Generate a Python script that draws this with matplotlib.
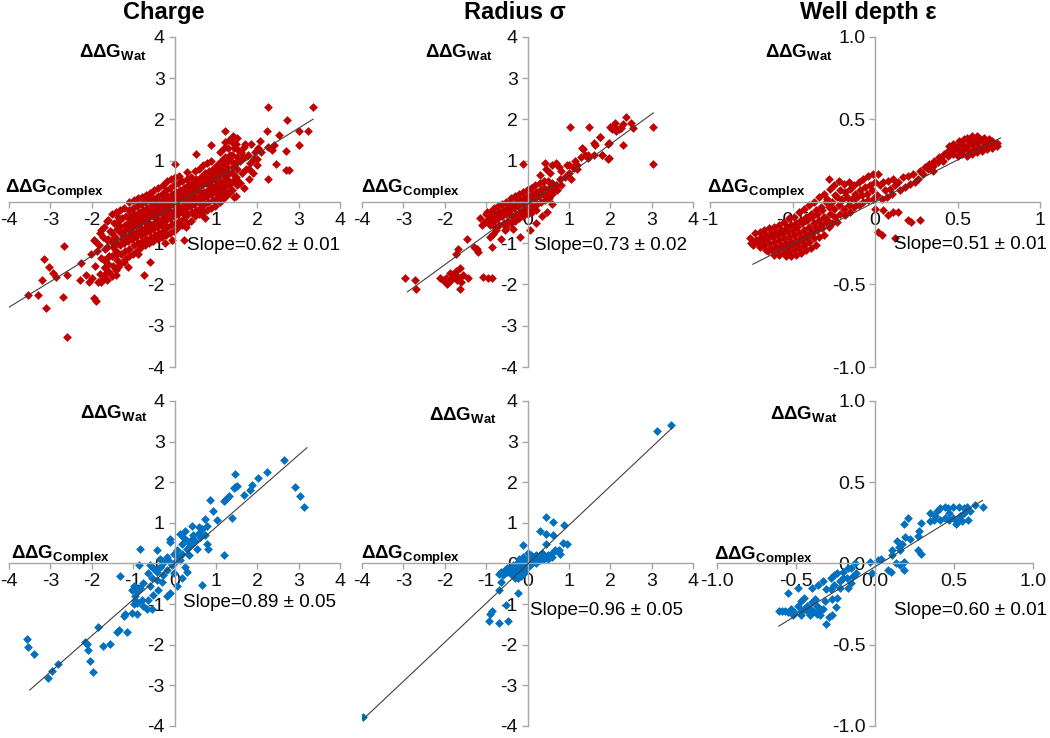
import numpy as np
import matplotlib.pyplot as plt

plt.rcParams['font.family'] = ['Liberation Sans', 'DejaVu Sans']
plt.rcParams['mathtext.fontset'] = 'custom'
plt.rcParams['mathtext.rm'] = 'Liberation Sans'
plt.rcParams['mathtext.bf'] = 'Liberation Sans:bold'

# column titles
titles = ['Charge', 'Radius σ', 'Well depth ε']

# slope annotations (top row, bottom row)
slopes_top = ['Slope=0.62 ± 0.01', 'Slope=0.73 ± 0.02', 'Slope=0.51 ± 0.01']
slopes_bottom = ['Slope=0.89 ± 0.05', 'Slope=0.96 ± 0.05', 'Slope=0.60 ± 0.01']

# trend lines: slope, intercept, x start, x end
fit_charge_top = [0.62, -0.07, -4.0, 3.35]
fit_radius_top = [0.73, -0.06, -2.9, 3.04]
fit_well_top = [0.51, 0.0, -0.74, 0.76]
fit_charge_bottom = [0.89, 0.0, -3.5, 3.2]
fit_radius_bottom = [0.96, -0.02, -3.95, 3.5]
fit_well_bottom = [0.60, -0.02, -0.61, 0.68]

# ---- Charge, top row (x = ddG complex, y = ddG water) ----
charge_top = [
    (3.35, 2.31), (2.26, 2.31), (2.72, 1.99), (3.02, 1.73), (3.23, 1.73), (3.0, 1.39),
    (2.70, 1.23), (2.70, 0.78), (2.76, 0.78), (2.26, 0.56), (2.46, 0.93), (2.26, 1.33),
    (2.06, 1.49), (2.24, 1.73), (2.52, 1.63), (1.94, 1.21), (1.81, 0.81), (1.60, 1.05),
    (1.67, 1.33), (1.23, 1.73), (0.89, 1.37), (0.52, 1.17), (0.02, 0.93), (1.45, 0.12),
    (1.49, 0.56), (1.17, 0.36), (2.1, 1.2), (2.35, 1.25), (2.4, 1.38), (1.85, 1.4), (2.0, 1.05),
    (-3.55, -2.26), (-3.31, -2.26), (-3.10, -2.56), (-3.21, -1.90), (-3.15, -1.37), (-3.04, -1.57),
    (-2.94, -1.73), (-2.86, -1.81), (-2.70, -2.31), (-2.68, -1.07), (-2.60, -1.77), (-2.60, -3.27),
    (-2.28, -1.90), (-2.26, -1.48), (-2.03, -1.25), (-2.14, -1.77), (-2.07, -1.94), (-1.94, -2.32),
    (-1.90, -2.40), (-2.0, -1.85), (-1.85, -1.94), (-1.77, -1.94), (-1.69, -1.57), (-1.65, -1.73),
    (-1.60, -1.33), (-1.63, -0.91), (-1.37, -1.57), (-1.41, -1.77), (-1.41, -1.29), (-1.19, -1.37),
    (-1.13, -1.57), (-0.89, -1.25), (-0.74, -1.77), (-0.60, -1.45), (-0.24, -1.0), (0.23, -0.93),
    (-0.06, -0.93), (-0.56, -0.93), (-1.94, -0.93), (-1.77, -0.69), (-1.61, -0.44), (-1.37, -0.36),
    (0.65, -0.28), (0.73, -0.40), (0.28, -0.60), (-1.37, -0.54),
    (-1.91, -1.55), (-1.88, -1.2), (-1.93, -0.95),
    (-1.81, -1.75), (-1.78, -1.35), (-1.83, -1.05), (-1.79, -0.75),
    (-1.72, -1.85), (-1.69, -1.6), (-1.71, -1.4), (-1.68, -1.15), (-1.73, -0.85), (-1.7, -0.6),
    (-1.62, -1.9), (-1.58, -1.7), (-1.61, -1.5), (-1.59, -1.3), (-1.63, -1.1), (-1.6, -0.9), (-1.57, -0.7), (-1.62, -0.45),
    (-1.52, -1.8), (-1.49, -1.55), (-1.51, -1.3), (-1.48, -1.1), (-1.53, -0.95), (-1.5, -0.75), (-1.47, -0.5), (-1.52, -0.3),
    (-1.42, -1.65), (-1.39, -1.4), (-1.41, -1.2), (-1.38, -1.0), (-1.43, -0.85), (-1.4, -0.65), (-1.37, -0.45), (-1.42, -0.25),
    (-1.31, -1.5), (-1.29, -1.25), (-1.32, -1.05), (-1.28, -0.9), (-1.3, -0.75), (-1.33, -0.6), (-1.27, -0.4), (-1.31, -0.2),
    (-1.22, -1.45), (-1.19, -1.2), (-1.21, -1.0), (-1.18, -0.85), (-1.23, -0.7), (-1.2, -0.55), (-1.17, -0.35), (-1.22, -0.15),
    (-1.11, -1.3), (-1.09, -1.15), (-1.12, -0.95), (-1.08, -0.8), (-1.1, -0.65), (-1.13, -0.5), (-1.07, -0.35), (-1.11, -0.2), (-1.09, 0.0),
    (-1.01, -1.25), (-0.98, -1.05), (-1.02, -0.9), (-0.99, -0.75), (-1.03, -0.6), (-1.0, -0.45), (-0.97, -0.3), (-1.01, -0.15), (-0.99, 0.05),
    (-0.91, -1.2), (-0.88, -1.0), (-0.92, -0.85), (-0.89, -0.7), (-0.93, -0.55), (-0.9, -0.4), (-0.87, -0.25), (-0.91, -0.1), (-0.89, 0.1),
    (-0.81, -1.1), (-0.78, -0.95), (-0.82, -0.8), (-0.79, -0.65), (-0.83, -0.5), (-0.8, -0.35), (-0.77, -0.2), (-0.81, -0.05), (-0.79, 0.12),
    (-0.71, -1.05), (-0.68, -0.9), (-0.72, -0.75), (-0.69, -0.6), (-0.73, -0.45), (-0.7, -0.3), (-0.67, -0.15), (-0.71, 0.0), (-0.69, 0.18),
    (-0.61, -1.0), (-0.58, -0.85), (-0.62, -0.7), (-0.59, -0.55), (-0.63, -0.4), (-0.6, -0.25), (-0.57, -0.1), (-0.61, 0.05), (-0.59, 0.22),
    (-0.51, -0.95), (-0.48, -0.8), (-0.52, -0.65), (-0.49, -0.5), (-0.53, -0.35), (-0.5, -0.2), (-0.47, -0.05), (-0.51, 0.1), (-0.49, 0.28),
    (-0.41, -0.9), (-0.38, -0.75), (-0.42, -0.6), (-0.39, -0.45), (-0.43, -0.3), (-0.4, -0.15), (-0.37, 0.0), (-0.41, 0.15), (-0.39, 0.35),
    (-0.31, -0.85), (-0.28, -0.7), (-0.32, -0.55), (-0.29, -0.4), (-0.33, -0.25), (-0.3, -0.1), (-0.27, 0.05), (-0.31, 0.2), (-0.29, 0.4),
    (-0.21, -0.8), (-0.18, -0.6), (-0.22, -0.45), (-0.19, -0.3), (-0.23, -0.15), (-0.2, 0.0), (-0.17, 0.15), (-0.21, 0.3), (-0.19, 0.5),
    (-0.11, -0.75), (-0.08, -0.55), (-0.12, -0.4), (-0.09, -0.25), (-0.13, -0.1), (-0.1, 0.05), (-0.07, 0.2), (-0.11, 0.35), (-0.09, 0.55),
    (-0.01, -0.7), (0.02, -0.5), (-0.02, -0.35), (0.01, -0.2), (-0.03, -0.05), (0.0, 0.1), (0.03, 0.25), (-0.01, 0.4), (0.01, 0.6),
    (0.09, -0.6), (0.12, -0.45), (0.08, -0.3), (0.11, -0.15), (0.07, 0.0), (0.1, 0.15), (0.13, 0.3), (0.09, 0.45), (0.11, 0.62),
    (0.19, -0.55), (0.22, -0.4), (0.18, -0.25), (0.21, -0.1), (0.17, 0.05), (0.2, 0.2), (0.23, 0.35), (0.19, 0.5),
    (0.29, -0.5), (0.32, -0.3), (0.28, -0.15), (0.31, 0.0), (0.27, 0.12), (0.3, 0.25), (0.33, 0.4), (0.29, 0.55), (0.31, 0.72),
    (0.39, -0.45), (0.42, -0.25), (0.38, -0.1), (0.41, 0.05), (0.37, 0.2), (0.4, 0.32), (0.43, 0.45), (0.39, 0.6),
    (0.49, -0.35), (0.52, -0.2), (0.48, -0.05), (0.51, 0.1), (0.47, 0.25), (0.5, 0.4), (0.53, 0.55), (0.49, 0.75),
    (0.59, -0.3), (0.62, -0.15), (0.58, 0.0), (0.61, 0.15), (0.57, 0.3), (0.6, 0.45), (0.63, 0.6), (0.59, 0.8),
    (0.69, -0.25), (0.72, -0.05), (0.68, 0.1), (0.71, 0.25), (0.67, 0.4), (0.7, 0.55), (0.73, 0.7), (0.69, 0.9),
    (0.79, -0.2), (0.82, 0.0), (0.78, 0.15), (0.81, 0.3), (0.77, 0.45), (0.8, 0.6), (0.83, 0.75), (0.79, 0.95),
    (0.89, -0.15), (0.92, 0.05), (0.88, 0.2), (0.91, 0.35), (0.87, 0.5), (0.9, 0.65), (0.93, 0.8), (0.89, 1.0),
    (0.99, -0.1), (1.02, 0.1), (0.98, 0.25), (1.01, 0.4), (0.97, 0.55), (1.0, 0.7), (1.03, 0.9),
    (1.09, 0.0), (1.12, 0.2), (1.08, 0.35), (1.11, 0.5), (1.07, 0.65), (1.1, 0.8), (1.13, 1.0), (1.09, 1.2),
    (1.19, 0.1), (1.22, 0.3), (1.18, 0.45), (1.21, 0.6), (1.17, 0.75), (1.2, 0.9), (1.23, 1.1), (1.19, 1.3), (1.21, 1.45),
    (1.29, 0.2), (1.32, 0.4), (1.28, 0.55), (1.31, 0.7), (1.27, 0.85), (1.3, 1.0), (1.33, 1.15), (1.29, 1.3), (1.31, 1.5),
    (1.39, 0.3), (1.42, 0.5), (1.38, 0.7), (1.41, 0.85), (1.37, 1.0), (1.4, 1.15), (1.43, 1.3), (1.39, 1.45), (1.41, 1.6),
    (1.49, 0.15), (1.52, 0.4), (1.48, 0.6), (1.51, 0.8), (1.47, 0.95), (1.5, 1.1), (1.53, 1.25), (1.49, 1.4), (1.51, 1.55),
    (1.59, 0.45), (1.62, 0.7), (1.58, 1.0), (1.61, 1.2),
    (1.69, 0.35), (1.72, 0.8), (1.68, 1.1), (1.71, 1.4),
    (1.79, 0.55), (1.82, 0.95), (1.78, 1.15),
    (1.89, 0.7), (1.92, 1.05), (1.99, 0.9), (2.02, 1.3),
    (-0.86, -0.62), (-0.64, -0.48), (-0.44, -0.38), (-0.25, -0.33), (-0.05, -0.28), (0.15, -0.2),
    (0.35, -0.05), (0.55, 0.05), (-0.75, -0.38), (-0.55, -0.3), (-0.35, -0.2), (-0.15, -0.12),
    (0.05, -0.08), (0.25, 0.08), (0.45, 0.15), (0.65, 0.2), (0.85, 0.4), (-1.25, -0.8), (-1.05, -0.7),
]

# ---- Radius, top row ----
radius_top = [
    (3.04, 1.81), (3.04, 0.91), (2.38, 2.07), (2.51, 1.91), (2.55, 1.79), (2.0, 1.81),
    (2.1, 1.85), (2.2, 1.78), (2.15, 1.72), (2.25, 1.8), (2.05, 1.76), (2.3, 1.9), (2.12, 1.92),
    (1.95, 1.40), (2.3, 1.37), (1.75, 1.57), (1.63, 1.37), (1.35, 1.29), (1.47, 1.13), (1.79, 1.13),
    (1.95, 1.05), (1.02, 1.81), (1.49, 1.81), (-0.1, 0.91), (0.42, 0.94), (0.76, 0.86), (1.0, 0.9),
    (1.12, 0.82), (1.2, 0.9), (1.4, 1.14), (1.32, 1.3), (1.6, 1.42), (1.76, 1.58), (1.96, 1.42),
    (1.8, 1.14), (1.96, 1.06), (1.45, 1.07), (1.6, 1.13), (0.45, 0.8), (0.6, 0.9), (0.7, 0.95),
    (0.8, 0.75), (0.95, 0.9), (1.0, 0.7), (1.1, 0.85), (1.2, 0.8), (1.15, 1.0), (1.3, 1.1),
    (0.9, 0.6), (1.05, 0.55), (0.3, 0.65), (0.55, 0.7),
    (-2.97, -1.85), (-2.72, -1.9), (-2.69, -2.12), (-2.12, -1.85), (-2.05, -1.9), (-1.98, -1.85),
    (-1.92, -1.93), (-1.85, -1.88), (-1.8, -1.8), (-1.75, -1.75), (-1.7, -1.9), (-1.65, -1.85),
    (-1.6, -1.95), (-1.88, -1.73), (-1.95, -1.98), (-1.64, -2.12), (-1.64, -1.6), (-1.55, -1.78),
    (-1.45, -1.85), (-1.72, -1.68), (-1.72, -1.25), (-1.68, -1.13), (-1.47, -0.89), (-1.23, -1.13),
    (-1.19, -1.21), (-1.3, -1.09), (-0.99, -0.24), (-1.07, -1.81), (-0.95, -1.85), (-0.87, -1.85),
    (-0.83, -0.77), (-0.91, -0.85), (-0.75, -0.69), (-0.85, -1.09), (-0.55, -0.69), (-0.51, -0.6),
    (-1.03, -0.48), (-0.19, -0.85), (-0.35, -0.65), (0.06, -0.69), (0.46, -0.24),
    (-1.15, -0.4), (-1.1, -0.55), (-0.65, -0.9), (0.2, -0.5), (0.35, -0.35), (0.6, -0.05),
    (-1.01, -0.3), (-0.98, -0.45),
    (-0.91, -0.25), (-0.88, -0.4), (-0.9, -0.55),
    (-0.81, -0.15), (-0.79, -0.3), (-0.82, -0.45), (-0.78, -0.6),
    (-0.71, -0.1), (-0.69, -0.25), (-0.72, -0.4), (-0.68, -0.55),
    (-0.61, -0.05), (-0.59, -0.2), (-0.62, -0.35), (-0.58, -0.5),
    (-0.51, 0.0), (-0.49, -0.15), (-0.52, -0.3), (-0.48, -0.45),
    (-0.41, 0.1), (-0.39, -0.05), (-0.42, -0.2), (-0.38, -0.35), (-0.4, -0.5),
    (-0.31, 0.15), (-0.29, 0.0), (-0.32, -0.15), (-0.28, -0.3), (-0.3, -0.45),
    (-0.21, 0.2), (-0.19, 0.05), (-0.22, -0.1), (-0.18, -0.25), (-0.2, -0.4),
    (-0.11, 0.25), (-0.09, 0.1), (-0.12, -0.05), (-0.08, -0.2), (-0.1, -0.35),
    (-0.01, 0.3), (0.01, 0.15), (-0.02, 0.0), (0.02, -0.15), (0.0, -0.3),
    (0.09, 0.35), (0.11, 0.2), (0.08, 0.05), (0.12, -0.1), (0.1, -0.25),
    (0.19, 0.4), (0.21, 0.25), (0.18, 0.1), (0.22, -0.05), (0.2, -0.2),
    (0.29, 0.45), (0.31, 0.3), (0.28, 0.15), (0.32, 0.0),
    (0.39, 0.5), (0.41, 0.35), (0.38, 0.2), (0.42, 0.05),
    (0.49, 0.5), (0.51, 0.35), (0.48, 0.2), (0.52, 0.1),
    (0.59, 0.45), (0.61, 0.3), (0.58, 0.2),
    (0.69, 0.4), (0.71, 0.3), (0.79, 0.55), (0.81, 0.4),
]

# ---- Well depth, top row ----
well_top = [
    (-0.76, -0.22), (-0.75, -0.25),
    (-0.73, -0.19), (-0.72, -0.23), (-0.74, -0.26),
    (-0.70, -0.18), (-0.69, -0.21), (-0.71, -0.24), (-0.70, -0.27),
    (-0.67, -0.17), (-0.66, -0.2), (-0.68, -0.23), (-0.67, -0.26), (-0.66, -0.29),
    (-0.64, -0.16), (-0.63, -0.19), (-0.65, -0.22), (-0.64, -0.25), (-0.63, -0.28), (-0.65, -0.30),
    (-0.61, -0.15), (-0.60, -0.18), (-0.62, -0.21), (-0.61, -0.24), (-0.60, -0.27), (-0.62, -0.30), (-0.61, -0.32),
    (-0.58, -0.14), (-0.57, -0.17), (-0.59, -0.2), (-0.58, -0.23), (-0.57, -0.26), (-0.59, -0.29), (-0.58, -0.32),
    (-0.55, -0.12), (-0.54, -0.16), (-0.56, -0.19), (-0.55, -0.22), (-0.54, -0.25), (-0.56, -0.28), (-0.55, -0.31), (-0.54, -0.33),
    (-0.52, -0.1), (-0.51, -0.14), (-0.53, -0.18), (-0.52, -0.21), (-0.51, -0.24), (-0.53, -0.27), (-0.52, -0.3), (-0.51, -0.33),
    (-0.49, -0.09), (-0.48, -0.13), (-0.50, -0.17), (-0.49, -0.2), (-0.48, -0.23), (-0.50, -0.26), (-0.49, -0.29), (-0.48, -0.32),
    (-0.46, -0.06), (-0.45, -0.11), (-0.47, -0.15), (-0.46, -0.19), (-0.45, -0.22), (-0.47, -0.25), (-0.46, -0.28), (-0.45, -0.31),
    (-0.43, -0.04), (-0.42, -0.09), (-0.44, -0.13), (-0.43, -0.17), (-0.42, -0.2), (-0.44, -0.23), (-0.43, -0.26), (-0.42, -0.29),
    (-0.40, -0.02), (-0.39, -0.07), (-0.41, -0.11), (-0.40, -0.15), (-0.39, -0.18), (-0.41, -0.21), (-0.40, -0.24), (-0.39, -0.28),
    (-0.37, 0.0), (-0.36, -0.05), (-0.38, -0.09), (-0.37, -0.13), (-0.36, -0.16), (-0.38, -0.19), (-0.37, -0.22), (-0.36, -0.26),
    (-0.34, 0.03), (-0.33, -0.03), (-0.35, -0.07), (-0.34, -0.11), (-0.33, -0.14), (-0.35, -0.17), (-0.34, -0.21),
    (-0.31, 0.05), (-0.30, 0.0), (-0.32, -0.05), (-0.31, -0.09), (-0.30, -0.12), (-0.32, -0.16), (-0.31, -0.2),
    (-0.28, 0.14), (-0.27, 0.08), (-0.29, 0.02), (-0.28, -0.03), (-0.27, -0.07), (-0.29, -0.11), (-0.28, -0.15),
    (-0.25, 0.1), (-0.24, 0.04), (-0.26, 0.0), (-0.25, -0.04), (-0.24, -0.09), (-0.26, -0.13),
    (-0.22, 0.13), (-0.21, 0.07), (-0.23, 0.03), (-0.22, -0.02), (-0.21, -0.07), (-0.23, -0.12),
    (-0.19, 0.11), (-0.18, 0.06), (-0.20, 0.01), (-0.19, -0.04), (-0.18, -0.08),
    (-0.16, 0.12), (-0.15, 0.08), (-0.17, 0.03), (-0.16, -0.02), (-0.15, -0.06),
    (-0.13, 0.1), (-0.12, 0.05), (-0.14, 0.02), (-0.13, -0.03),
    (-0.10, 0.12), (-0.09, 0.07), (-0.11, 0.03), (-0.10, -0.02),
    (-0.07, 0.14), (-0.06, 0.09), (-0.08, 0.04), (-0.07, 0.0),
    (-0.04, 0.16), (-0.03, 0.1), (-0.05, 0.05), (-0.04, 0.01),
    (-0.01, 0.17), (0.0, 0.12), (-0.02, 0.07), (-0.01, 0.02), (0.0, -0.04),
    (0.02, 0.17), (0.03, 0.1), (0.01, 0.04), (0.02, -0.18),
    (0.05, 0.12), (0.06, 0.07), (0.04, 0.02), (0.05, -0.05), (0.04, -0.2),
    (0.08, 0.13), (0.09, 0.08), (0.07, 0.03), (0.08, -0.08),
    (0.11, 0.14), (0.12, 0.1), (0.10, 0.05), (0.11, -0.06),
    (0.14, 0.12), (0.15, 0.07), (0.14, -0.06), (0.12, -0.22),
    (0.17, 0.15), (0.18, 0.09), (0.20, 0.16), (0.21, 0.11), (0.20, -0.11),
    (0.23, 0.17), (0.24, 0.12), (0.22, -0.12), (0.26, 0.14), (0.27, 0.19), (0.27, -0.11),
    (0.29, 0.17), (0.30, 0.21), (0.32, 0.2), (0.33, 0.23), (0.35, 0.22), (0.36, 0.25), (0.35, 0.19),
    (0.38, 0.24), (0.39, 0.27), (0.41, 0.25), (0.42, 0.29), (0.44, 0.28), (0.45, 0.34), (0.44, 0.31),
    (0.47, 0.29), (0.48, 0.32), (0.47, 0.35),
    (0.50, 0.28), (0.51, 0.31), (0.50, 0.34), (0.51, 0.37),
    (0.53, 0.29), (0.54, 0.32), (0.53, 0.35), (0.54, 0.38),
    (0.56, 0.28), (0.57, 0.31), (0.56, 0.34), (0.57, 0.37), (0.56, 0.39),
    (0.59, 0.29), (0.60, 0.32), (0.59, 0.35), (0.60, 0.38), (0.59, 0.4),
    (0.62, 0.3), (0.63, 0.33), (0.62, 0.36), (0.63, 0.39), (0.62, 0.4),
    (0.65, 0.31), (0.66, 0.34), (0.65, 0.37), (0.66, 0.39),
    (0.68, 0.32), (0.69, 0.35), (0.68, 0.37), (0.69, 0.38),
    (0.71, 0.33), (0.72, 0.35), (0.71, 0.37), (0.74, 0.34), (0.74, 0.36),
]

# ---- Charge, bottom row ----
charge_bottom = [
    (2.64, 2.54), (2.23, 2.24), (2.03, 2.10), (1.87, 1.94), (1.83, 1.81), (1.47, 2.19),
    (1.47, 1.87), (1.51, 1.9), (1.43, 1.85), (1.69, 1.69), (1.31, 1.65), (1.27, 1.61),
    (1.23, 1.57), (1.19, 1.53), (0.85, 1.55), (0.94, 1.29), (1.02, 1.06), (1.39, 1.13),
    (1.19, 0.2), (2.92, 1.87), (3.04, 1.65), (3.14, 1.39), (0.74, 1.09), (0.78, 0.93),
    (0.58, 0.89), (0.66, 0.85), (0.42, 0.93), (0.26, 0.81), (0.14, 0.73), (0.3, 0.56),
    (0.42, 0.6), (0.74, 0.69), (0.62, 0.65), (0.78, 0.48), (0.82, 0.36), (0.54, 0.36),
    (0.18, 0.48), (-0.1, 0.6), (-0.1, 0.52), (0.06, 0.32), (0.18, 0.24), (-0.02, 0.24),
    (-0.19, 0.16), (-0.35, 0.12), (-0.43, 0.32), (-0.83, 0.36), (-0.15, 0.08), (0.02, 0.04),
    (0.14, 0.08), (0.26, -0.08), (0.3, -0.2), (0.18, -0.36), (-0.02, -0.24), (-0.19, -0.16),
    (-0.27, -0.28), (-0.43, -0.4), (-0.55, -0.36), (-0.59, -0.56), (-0.39, -0.65), (-0.51, -0.77),
    (-0.63, -0.89), (-0.79, -0.89), (-0.91, -0.97), (-0.99, -1.01), (-0.95, -0.81), (-0.87, -0.04),
    (-1.31, -0.32), (-0.67, -1.13), (-0.55, -1.13), (-1.03, -1.21), (-0.91, -1.25), (-1.19, -1.25),
    (-1.23, -1.29), (-0.19, -0.81), (-0.1, -0.73), (0.06, -0.56), (0.66, -0.52), (-1.15, -1.69),
    (-1.35, -1.65), (-1.4, -1.69), (-1.56, -1.98), (-1.72, -2.02), (-1.84, -1.57), (-2.16, -1.94),
    (-2.12, -1.98), (-2.08, -2.14), (-2.04, -2.4), (-1.96, -2.66), (-2.81, -2.48), (-2.97, -2.65),
    (-3.05, -2.82), (-3.57, -1.85), (-3.53, -2.06), (-3.4, -2.22),
    (-0.59, -0.04), (-0.51, -0.12), (-0.43, -0.2), (-0.35, -0.08), (-0.27, 0.0), (-0.63, -0.24),
    (-0.75, -0.48), (-0.83, -0.6), (-0.99, -0.56), (-1.03, -0.65), (-0.91, -0.69), (-0.95, -0.89),
    (-0.75, -1.05), (0.3, 0.36), (0.4, 0.45), (0.1, 0.15), (-0.05, -0.05), (0.35, 0.2),
    (0.5, 0.55), (0.22, 0.62), (-0.3, -0.45), (0.6, 0.75), (0.45, 0.7),
]

# ---- Radius, bottom row ----
radius_bottom = [
    (3.48, 3.41), (3.12, 3.27), (-3.98, -3.77), (0.45, 1.14), (0.61, 1.03), (0.87, 0.95),
    (0.31, 0.81), (0.45, 0.72), (0.61, 0.71), (0.85, 0.51), (0.96, 0.48), (-0.1, 0.45),
    (0.44, 0.47), (0.73, 0.3), (0.76, 0.32), (-0.65, -0.46), (-0.68, -0.65), (-0.23, -0.73),
    (-0.23, -0.37), (-0.51, -1.02), (-0.85, -1.18), (-0.9, -1.24), (-0.92, -1.42), (-0.68, -1.46),
    (-0.48, -1.41), (0.66, 0.32), (0.78, 0.24),
    (-0.7, -0.25), (-0.65, -0.2), (-0.6, -0.28), (-0.55, -0.15), (-0.5, -0.22), (-0.5, -0.1),
    (-0.45, -0.18), (-0.4, -0.12), (-0.4, -0.25), (-0.35, -0.05), (-0.35, -0.18), (-0.3, -0.1),
    (-0.3, -0.22), (-0.25, 0.0), (-0.25, -0.12), (-0.2, -0.05), (-0.2, -0.18), (-0.15, 0.05),
    (-0.15, -0.08), (-0.1, 0.0), (-0.1, -0.12), (-0.05, 0.08), (-0.05, -0.05), (0.0, 0.02),
    (0.0, 0.12), (0.0, -0.08), (0.05, 0.05), (0.05, -0.04), (0.1, 0.1), (0.1, 0.0),
    (0.15, 0.06), (0.15, 0.15), (0.2, 0.1), (0.2, 0.02), (0.25, 0.14), (0.3, 0.08),
    (0.3, 0.18), (0.35, 0.12), (0.4, 0.2), (0.4, 0.1), (0.45, 0.15), (0.5, 0.22),
    (0.55, 0.18), (0.6, 0.25), (0.6, 0.15), (-0.12, 0.15), (-0.2, 0.1), (-0.05, -0.2),
    (0.08, 0.2), (0.2, 0.22), (-0.3, -0.35), (0.35, 0.25), (0.5, 0.1), (-0.15, -0.3), (0.0, 0.25),
]

# ---- Well depth, bottom row ----
well_bottom = [
    (0.68, 0.35), (0.63, 0.36), (0.58, 0.35), (0.6, 0.32), (0.56, 0.31), (0.54, 0.29),
    (0.59, 0.27), (0.51, 0.24), (0.52, 0.26), (0.49, 0.28), (0.47, 0.31), (0.46, 0.34),
    (0.49, 0.35), (0.44, 0.35), (0.41, 0.34), (0.39, 0.32), (0.38, 0.29), (0.35, 0.26),
    (0.37, 0.27), (0.41, 0.27), (0.44, 0.28), (0.47, 0.27), (0.56, 0.34), (0.53, 0.35),
    (0.55, 0.26), (0.29, 0.25), (0.35, 0.31),
    (0.21, 0.28), (0.18, 0.24), (0.28, 0.2), (0.27, 0.17), (0.22, 0.15), (0.19, 0.16),
    (0.17, 0.12), (0.15, 0.1), (0.16, 0.08), (0.14, 0.14), (0.11, 0.08), (0.11, 0.05),
    (0.27, 0.08), (0.29, 0.06), (0.18, 0.01), (0.16, -0.01), (0.18, -0.04), (0.13, 0.0),
    (0.08, -0.04), (0.1, -0.05), (0.02, 0.02), (-0.03, 0.01), (-0.02, -0.06), (0.04, 0.03),
    (-0.13, 0.0), (-0.17, -0.03), (-0.12, -0.06), (-0.14, -0.08), (-0.15, -0.12), (-0.17, -0.15),
    (-0.2, -0.09), (-0.22, -0.15), (-0.24, -0.21), (-0.25, -0.27), (-0.27, -0.22), (-0.26, -0.13),
    (-0.28, -0.09), (-0.31, -0.16), (-0.32, -0.23), (-0.33, -0.28), (-0.31, -0.37), (-0.27, -0.32),
    (-0.29, -0.33), (-0.35, -0.28), (-0.37, -0.26), (-0.38, -0.22), (-0.4, -0.24), (-0.41, -0.28),
    (-0.43, -0.26), (-0.45, -0.21), (-0.47, -0.23), (-0.47, -0.29), (-0.49, -0.26), (-0.51, -0.3),
    (-0.53, -0.28), (-0.55, -0.3), (-0.57, -0.29), (-0.59, -0.29), (-0.61, -0.29), (-0.55, -0.18),
    (-0.49, -0.15), (-0.45, -0.28), (-0.43, -0.29), (-0.37, -0.31), (-0.39, -0.29), (-0.41, -0.32),
    (-0.47, -0.32), (-0.52, -0.32), (-0.35, -0.32), (-0.2, -0.05), (-0.22, -0.11), (-0.15, -0.03),
    (-0.18, -0.09), (-0.36, -0.13), (-0.4, -0.15), (-0.33, -0.11), (-0.26, -0.07), (-0.28, -0.16),
    (-0.24, -0.06),
]

red = '#C00000'
blue = '#0070C0'
axis_grey = '#A6A6A6'

int_ticks = [-4, -3, -2, -1, 0, 1, 2, 3, 4]
int_labels = ['-4', '-3', '-2', '-1', '0', '1', '2', '3', '4']
half_ticks = [-1.0, -0.5, 0.0, 0.5, 1.0]
half_labels_short = ['-1', '-0.5', '0', '0.5', '1']
half_labels_long = ['-1.0', '-0.5', '0.0', '0.5', '1.0']

fig = plt.figure(figsize=(10.5, 7.38), dpi=100)
fig.patch.set_facecolor('white')


def draw_panel(rect, pts, color, fit, lim, ticks, xlabels, ylabels, slope_text,
               slope_xy, wat_xy, cpx_xy):
    ax = fig.add_axes(rect)
    ax.set_facecolor('none')
    pts = np.array(pts)
    ax.scatter(pts[:, 0], pts[:, 1], marker='D', s=20, color=color, linewidths=0, zorder=2)
    m, b, x0, x1 = fit
    xs = np.array([x0, x1])
    ax.plot(xs, m * xs + b, color='#404040', lw=0.8, zorder=3)
    ax.set_xlim(-lim, lim)
    ax.set_ylim(-lim, lim)
    for side in ['top', 'right']:
        ax.spines[side].set_visible(False)
    ax.spines['left'].set_position(('data', 0))
    ax.spines['bottom'].set_position(('data', 0))
    for side in ['left', 'bottom']:
        ax.spines[side].set_color(axis_grey)
        ax.spines[side].set_linewidth(1.0)
    ax.set_xticks(ticks)
    ax.set_xticklabels(xlabels)
    ax.set_yticks(ticks)
    ax.set_yticklabels(ylabels)
    ax.tick_params(axis='both', direction='out', length=4, width=1.0,
                   color=axis_grey, labelsize=14, labelcolor='#111111', pad=3)
    ax.text(slope_xy[0], slope_xy[1], slope_text, ha='right', va='center', fontsize=13.5)
    ax.text(wat_xy[0], wat_xy[1], r'$\mathbf{ΔΔG_{Wat}}$', ha='right', va='baseline', fontsize=13.5)
    ax.text(cpx_xy[0], cpx_xy[1], r'$\mathbf{ΔΔG_{Complex}}$', ha='right', va='baseline', fontsize=13.5)
    return ax


top_b, top_h = 0.5027, 0.4472
bot_b, bot_h = 0.0163, 0.4404

draw_panel([0.0086, top_b, 0.3152, top_h], charge_top, red, fit_charge_top, 4, int_ticks,
           int_labels, int_labels, slopes_top[0], (4.0, -1.05), (-0.68, 3.52), (-1.71, 0.22))
draw_panel([0.3448, top_b, 0.3152, top_h], radius_top, red, fit_radius_top, 4, int_ticks,
           int_labels, int_labels, slopes_top[1], (3.86, -1.05), (-0.85, 3.52), (-1.62, 0.22))
draw_panel([0.6762, top_b, 0.3143, top_h], well_top, red, fit_well_top, 1, half_ticks,
           half_labels_short, half_labels_long, slopes_top[2], (1.04, -0.26), (-0.255, 0.88), (-0.42, 0.055))
draw_panel([0.0086, bot_b, 0.3152, bot_h], charge_bottom, blue, fit_charge_bottom, 4, int_ticks,
           int_labels, int_labels, slopes_bottom[0], (3.9, -0.96), (-0.65, 3.57), (-1.55, 0.12))
draw_panel([0.3448, bot_b, 0.3152, bot_h], radius_bottom, blue, fit_radius_bottom, 4, int_ticks,
           int_labels, int_labels, slopes_bottom[1], (3.75, -1.15), (-0.75, 3.54), (-1.64, 0.12))
draw_panel([0.6829, bot_b, 0.3010, bot_h], well_bottom, blue, fit_well_bottom, 1, half_ticks,
           half_labels_long, half_labels_long, slopes_bottom[2], (1.09, -0.29), (-0.24, 0.89), (-0.39, 0.024))

title_x = [164 / 1050, 515 / 1050, 868 / 1050]
for tx, t in zip(title_x, titles):
    fig.text(tx, 1 - 19 / 738, t, ha='center', va='baseline', fontsize=17, fontweight='bold')

fig.savefig('out.png', dpi=100, facecolor='white')
